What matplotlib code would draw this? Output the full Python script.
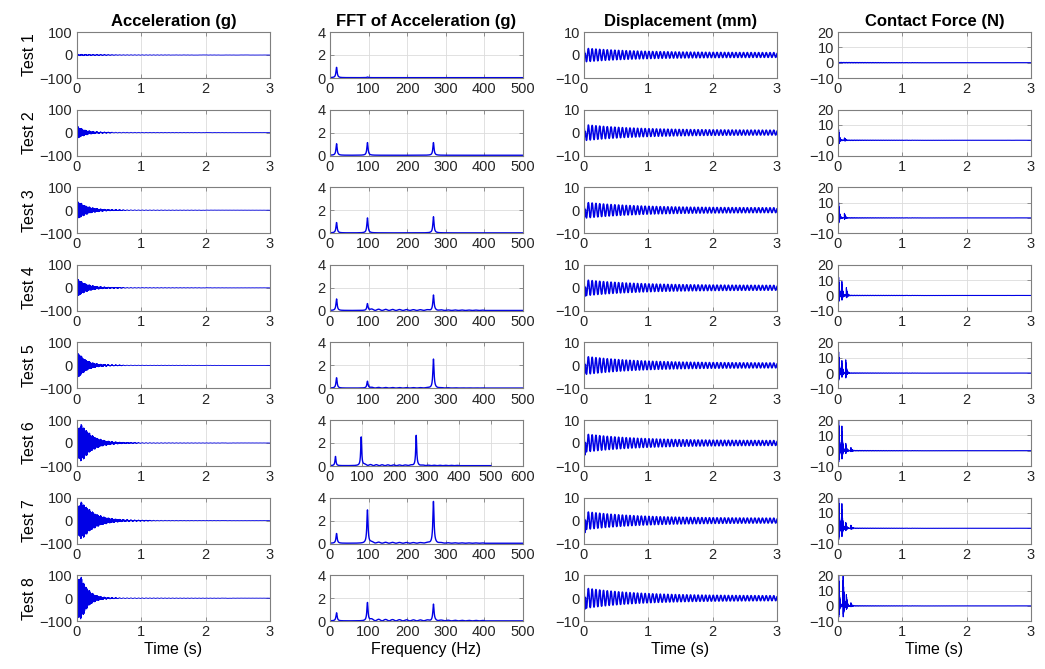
import numpy as np
import matplotlib
matplotlib.use("Agg")
import matplotlib.pyplot as plt

plt.rcParams['font.family'] = ['Liberation Sans', 'DejaVu Sans']

# --- test data (per test) ---
tests = ["Test 1", "Test 2", "Test 3", "Test 4", "Test 5", "Test 6", "Test 7", "Test 8"]

# acceleration: peak amplitude (g), rise and decay times (s)
acc_peak = [2, 25, 35, 35, 50, 80, 80, 95]
acc_rise = [0.005, 0.004, 0.01, 0.006, 0.01, 0.03, 0.03, 0.03]
acc_decay = [0.5, 0.13, 0.16, 0.15, 0.13, 0.17, 0.2, 0.11]
acc_tail = [1.5, 2, 2, 2, 2, 2.5, 2.5, 2.5]

# FFT of acceleration: resonance frequencies (Hz) and peak heights (g)
fft_freqs = [17, 97, 268]
fft_peaks = [
    [0.9, 0.05, 0.0],
    [1.0, 1.1, 1.1],
    [0.9, 1.3, 1.4],
    [1.0, 0.6, 1.3],
    [0.9, 0.6, 2.5],
    [0.8, 2.5, 2.6],
    [0.85, 2.9, 3.6],
    [0.7, 1.6, 1.4],
]
fft_ripple = [0.0, 0.0, 0.0, 0.12, 0.06, 0.1, 0.1, 0.15]
fft_xmax = [500, 500, 500, 500, 500, 600, 500, 500]

# displacement: first dip (mm), envelope start / end (mm)
disp_dip = [-3, -5, -6, -7, -7, -9, -9, -9]
disp_start = [3, 3.5, 3.5, 3.5, 4, 4, 4, 4.5]
disp_end = [1.0, 1.0, 1.0, 1.0, 1.0, 1.0, 1.0, 1.0]

# contact force bursts: (time s, peak N)
force_bursts = [
    [],
    [(0.01, 7), (0.1, 1.5)],
    [(0.01, 10), (0.1, 3)],
    [(0.01, 12), (0.06, 9), (0.13, 5)],
    [(0.01, 14), (0.06, 8), (0.12, 9)],
    [(0.01, 22), (0.06, 16), (0.12, 5), (0.2, 2)],
    [(0.01, 22), (0.06, 16), (0.12, 4), (0.2, 2)],
    [(0.01, 22), (0.08, 22), (0.13, 7), (0.2, 2)],
]

col_titles = ["Acceleration (g)", "FFT of Acceleration (g)", "Displacement (mm)", "Contact Force (N)"]

t = np.linspace(0, 3, 30000)
f = np.linspace(0, 500, 2001)

W, H = 1045, 669
fig = plt.figure(figsize=(W / 100, H / 100), dpi=100)

col_left = [77, 330, 584, 838]
ax_w, ax_h = 193, 46
row_top0, row_step = 32, 77.6

edge = '#7f7f7f'
line_c = '#0000e6'
f_low = fft_freqs[0]


def style(ax):
    for s in ax.spines.values():
        s.set_color(edge)
        s.set_linewidth(0.8)
    ax.tick_params(direction='in', length=3, width=0.6, color=edge,
                   labelsize=10.5, labelcolor='#262626', pad=3,
                   top=True, right=True)
    ax.grid(True, color='#dcdcdc', linewidth=0.6)
    ax.set_axisbelow(True)


for i in range(8):
    top = row_top0 + i * row_step
    axes = []
    for j in range(4):
        ax = fig.add_axes([col_left[j] / W, 1 - (top + ax_h) / H, ax_w / W, ax_h / H])
        style(ax)
        axes.append(ax)
    a_acc, a_fft, a_disp, a_force = axes
    p = fft_peaks[i]

    # acceleration
    env = (1 - np.exp(-t / acc_rise[i])) * np.exp(-t / acc_decay[i])
    env = acc_peak[i] * env / env.max()
    hf = p[1] * np.sin(2 * np.pi * fft_freqs[1] * t) + p[2] * np.sin(2 * np.pi * fft_freqs[2] * t)
    hf = hf / max(p[1] + p[2], 0.05)
    tail = acc_tail[i] * np.exp(-t / 1.5) * np.sin(2 * np.pi * f_low * t)
    acc = env * hf + tail
    a_acc.plot(t, acc, color=line_c, linewidth=0.6)
    a_acc.set_xlim(0, 3)
    a_acc.set_ylim(-100, 100)
    a_acc.set_yticks([-100, 0, 100])
    a_acc.set_xticks([0, 1, 2, 3])
    a_acc.set_ylabel(tests[i], fontsize=11.5, labelpad=2)

    # FFT
    spec = np.full_like(f, 0.03)
    for f0, h in zip(fft_freqs, p):
        spec += h / (1 + ((f - f0) / 1.8) ** 2)
    band = (f > 100) & (f < 400)
    spec[band] += fft_ripple[i] * (0.5 + 0.5 * np.cos(2 * np.pi * f[band] / 18)) * np.exp(-(f[band] - 100) / 200)
    a_fft.plot(f, spec, color=line_c, linewidth=1.0)
    a_fft.set_xlim(0, fft_xmax[i])
    a_fft.set_ylim(0, 4)
    a_fft.set_yticks([0, 2, 4])
    a_fft.set_xticks(np.arange(0, fft_xmax[i] + 1, 100))

    # displacement
    denv = disp_end[i] + (disp_start[i] - disp_end[i]) * np.exp(-t / 0.8)
    disp = denv * np.sin(2 * np.pi * f_low * t + 0.6)
    kick = disp_dip[i] * np.exp(-((t - 0.012) / 0.006) ** 2)
    disp = disp + kick
    a_disp.plot(t, disp, color=line_c, linewidth=1.1)
    a_disp.set_xlim(0, 3)
    a_disp.set_ylim(-10, 10)
    a_disp.set_yticks([-10, 0, 10])
    a_disp.set_xticks([0, 1, 2, 3])

    # contact force
    force = 0.25 * np.sin(2 * np.pi * 40 * t) * np.exp(-t / 1.0)
    for t0, pk in force_bursts[i]:
        g = np.where(t >= t0, np.exp(-(t - t0) / 0.012), 0)
        force += pk * g * np.abs(np.sin(2 * np.pi * 150 * (t - t0) + 1.3)) ** 3
        force -= 0.4 * pk * g * np.abs(np.sin(2 * np.pi * 150 * (t - t0))) ** 6
    a_force.plot(t, force, color=line_c, linewidth=0.8)
    a_force.set_xlim(0, 3)
    a_force.set_ylim(-10, 20)
    a_force.set_yticks([-10, 0, 10, 20])
    a_force.set_xticks([0, 1, 2, 3])

    if i == 0:
        for ax, title in zip(axes, col_titles):
            ax.set_title(title, fontsize=12, fontweight='bold', pad=4)
    if i == 7:
        a_acc.set_xlabel("Time (s)", fontsize=11.5, labelpad=2)
        a_fft.set_xlabel("Frequency (Hz)", fontsize=11.5, labelpad=2)
        a_disp.set_xlabel("Time (s)", fontsize=11.5, labelpad=2)
        a_force.set_xlabel("Time (s)", fontsize=11.5, labelpad=2)

fig.savefig("out.png", dpi=100)
